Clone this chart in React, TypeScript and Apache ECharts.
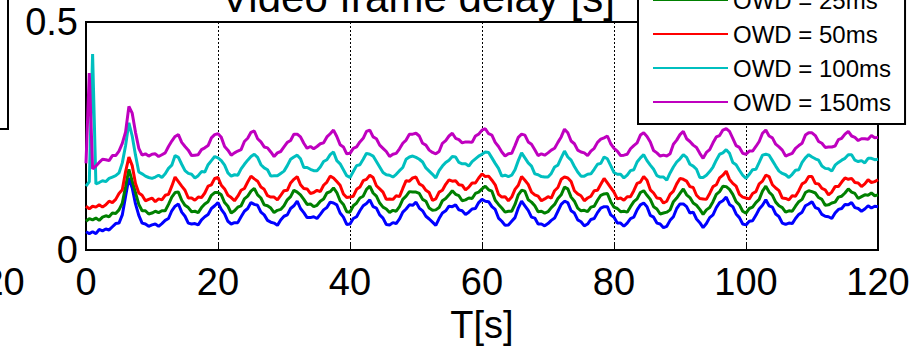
import React, { useEffect, useRef } from "react";
import * as echarts from "echarts";

// Sampling step of the recorded traces (seconds)
const SAMPLE_STEP_S = 0.5;

// Video frame delay in milliseconds, one value every 0.5 s from 0 to 120 s
const owd0Ms = [
  40, 36, 40, 36, 45, 42, 46, 44, 51, 58,
  59, 77, 118, 158, 136, 101, 76, 59, 57, 52,
  55, 57, 52, 58, 65, 69, 86, 96, 101, 83,
  74, 59, 57, 58, 55, 66, 73, 78, 91, 97,
  104, 89, 79, 63, 57, 60, 60, 73, 85, 91,
  104, 100, 98, 83, 77, 65, 61, 59, 54, 66,
  74, 77, 91, 97, 107, 91, 82, 71, 71, 73,
  69, 78, 88, 93, 105, 103, 99, 81, 72, 56,
  57, 69, 73, 86, 97, 102, 110, 95, 92, 77,
  70, 56, 55, 60, 58, 68, 83, 90, 99, 98,
  105, 92, 86, 74, 68, 61, 54, 69, 81, 86,
  96, 95, 99, 88, 86, 78, 83, 90, 91, 104,
  111, 107, 106, 95, 89, 70, 63, 54, 55, 63,
  71, 92, 107, 97, 87, 72, 70, 57, 57, 53,
  58, 65, 70, 85, 100, 107, 104, 86, 81, 66,
  62, 53, 57, 67, 69, 82, 92, 95, 95, 77,
  72, 59, 59, 52, 59, 69, 72, 88, 99, 103,
  95, 76, 72, 59, 57, 49, 52, 65, 73, 91,
  101, 101, 95, 81, 83, 68, 60, 49, 58, 71,
  77, 93, 104, 108, 116, 100, 95, 79, 71, 57,
  55, 63, 64, 76, 90, 98, 110, 97, 94, 79,
  73, 59, 56, 59, 58, 69, 78, 83, 97, 101,
  106, 93, 90, 78, 74, 73, 69, 81, 89, 91,
  100, 99, 104, 93, 91, 85, 90, 97, 92, 96,
  95,
];

const owd25Ms = [
  63, 69, 66, 70, 65, 72, 75, 73, 81, 80,
  88, 103, 139, 177, 151, 126, 100, 86, 86, 79,
  81, 85, 82, 86, 86, 100, 116, 126, 127, 109,
  98, 93, 84, 85, 82, 93, 101, 106, 120, 126,
  126, 121, 104, 96, 81, 86, 94, 97, 112, 118,
  129, 135, 121, 114, 99, 97, 92, 82, 87, 89,
  97, 110, 117, 131, 127, 121, 111, 100, 101, 95,
  98, 107, 112, 125, 128, 136, 126, 108, 100, 84,
  83, 97, 103, 114, 118, 133, 140, 125, 118, 103,
  94, 90, 82, 87, 85, 95, 111, 118, 128, 127,
  127, 124, 111, 107, 92, 87, 88, 93, 108, 113,
  121, 130, 122, 119, 108, 110, 114, 113, 124, 127,
  134, 140, 132, 129, 109, 100, 92, 83, 85, 85,
  100, 121, 131, 129, 110, 105, 97, 84, 85, 81,
  84, 93, 100, 113, 121, 138, 134, 116, 107, 92,
  86, 87, 84, 94, 96, 109, 120, 123, 124, 106,
  94, 91, 84, 85, 83, 95, 106, 112, 126, 130,
  120, 111, 95, 90, 79, 81, 83, 88, 106, 114,
  124, 134, 121, 115, 103, 98, 89, 78, 88, 93,
  106, 122, 128, 140, 139, 133, 122, 106, 99, 85,
  81, 91, 94, 104, 111, 129, 140, 127, 120, 105,
  97, 93, 83, 86, 85, 96, 106, 111, 126, 130,
  128, 125, 115, 111, 98, 99, 103, 105, 116, 118,
  125, 134, 127, 124, 113, 117, 121, 120, 125, 119,
  121,
];

const owd50Ms = [
  96, 90, 96, 94, 99, 94, 99, 107, 104, 111,
  124, 132, 172, 204, 185, 146, 125, 120, 108, 111,
  114, 106, 112, 110, 120, 122, 140, 160, 150, 140,
  131, 114, 114, 109, 116, 115, 125, 140, 143, 157,
  159, 142, 134, 120, 115, 108, 118, 131, 135, 149,
  162, 156, 151, 138, 133, 119, 116, 116, 110, 120,
  130, 131, 147, 155, 161, 143, 135, 134, 124, 126,
  131, 128, 142, 149, 162, 158, 150, 142, 123, 115,
  116, 118, 133, 138, 152, 155, 164, 159, 141, 134,
  127, 111, 112, 111, 119, 117, 135, 152, 151, 158,
  160, 145, 141, 131, 126, 109, 112, 127, 131, 144,
  154, 151, 152, 143, 142, 132, 138, 147, 147, 158,
  167, 161, 162, 153, 143, 122, 116, 117, 108, 116,
  133, 142, 161, 153, 144, 127, 121, 118, 108, 112,
  117, 114, 130, 137, 155, 160, 158, 150, 130, 123,
  119, 108, 114, 118, 130, 131, 144, 157, 147, 137,
  127, 112, 114, 109, 117, 117, 130, 146, 149, 161,
  153, 132, 125, 114, 113, 103, 107, 122, 129, 145,
  157, 155, 151, 139, 137, 120, 113, 112, 111, 124,
  139, 143, 158, 164, 173, 155, 146, 140, 122, 116,
  114, 112, 124, 128, 145, 151, 164, 161, 143, 136,
  130, 114, 113, 110, 119, 118, 130, 145, 149, 161,
  161, 146, 145, 135, 132, 121, 127, 139, 139, 149,
  158, 155, 157, 148, 147, 139, 145, 154, 148, 150,
  154,
];

const owd100Ms = [
  140, 150, 430, 145, 148, 152, 150, 157, 160, 163,
  169, 191, 229, 279, 250, 208, 171, 167, 162, 159,
  157, 160, 164, 159, 167, 179, 186, 207, 203, 188,
  174, 168, 166, 158, 163, 172, 171, 187, 196, 205,
  202, 196, 186, 169, 162, 165, 164, 178, 188, 197,
  205, 210, 203, 187, 180, 176, 162, 163, 163, 168,
  173, 185, 199, 204, 208, 200, 181, 181, 177, 174,
  174, 182, 194, 198, 209, 215, 196, 189, 176, 163,
  159, 172, 185, 187, 199, 212, 210, 206, 194, 182,
  170, 165, 164, 160, 166, 174, 181, 199, 204, 206,
  203, 199, 193, 180, 173, 166, 158, 174, 184, 192,
  197, 205, 204, 192, 189, 189, 184, 194, 200, 206,
  210, 215, 214, 202, 190, 179, 162, 164, 161, 164,
  176, 196, 213, 202, 191, 184, 167, 165, 161, 160,
  160, 168, 182, 186, 202, 217, 204, 197, 183, 171,
  162, 162, 166, 167, 177, 188, 190, 204, 200, 185,
  170, 166, 166, 158, 164, 174, 176, 193, 202, 209,
  196, 186, 177, 163, 160, 160, 153, 169, 182, 193,
  200, 209, 203, 188, 184, 177, 159, 159, 164, 172,
  182, 197, 210, 213, 220, 212, 192, 187, 175, 164,
  157, 166, 176, 177, 192, 208, 210, 208, 196, 184,
  173, 168, 165, 159, 166, 175, 176, 192, 202, 209,
  204, 200, 197, 184, 179, 178, 173, 186, 192, 197,
  201, 209, 209, 197, 194, 196, 191, 201, 201, 198,
  199,
];

const owd150Ms = [
  190, 388, 178, 184, 192, 199, 198, 196, 207, 207,
  217, 234, 259, 315, 300, 258, 223, 208, 211, 206,
  210, 211, 205, 209, 213, 227, 239, 249, 253, 236,
  227, 219, 207, 208, 209, 220, 224, 229, 246, 253,
  255, 247, 227, 219, 208, 213, 217, 220, 238, 245,
  258, 261, 244, 237, 226, 224, 215, 205, 213, 216,
  226, 236, 240, 254, 254, 248, 234, 223, 227, 222,
  227, 233, 235, 248, 255, 263, 249, 231, 226, 211,
  212, 223, 226, 237, 245, 260, 263, 248, 244, 230,
  223, 216, 205, 210, 212, 222, 234, 241, 254, 254,
  256, 250, 234, 230, 219, 214, 211, 216, 234, 240,
  250, 256, 245, 242, 235, 237, 237, 236, 250, 254,
  263, 266, 255, 252, 236, 227, 215, 206, 211, 212,
  229, 247, 254, 252, 237, 232, 220, 207, 211, 208,
  213, 219, 223, 236, 248, 265, 257, 239, 233, 219,
  215, 213, 207, 217, 223, 236, 243, 246, 250, 233,
  223, 217, 207, 208, 210, 222, 229, 235, 252, 257,
  249, 237, 218, 213, 206, 208, 206, 211, 232, 241,
  253, 260, 244, 238, 230, 225, 212, 201, 214, 220,
  235, 248, 251, 263, 266, 260, 245, 229, 225, 212,
  210, 217, 217, 227, 238, 256, 263, 250, 246, 232,
  226, 219, 206, 209, 212, 223, 229, 234, 252, 257,
  257, 251, 238, 234, 225, 226, 226, 228, 242, 245,
  254, 260, 250, 247, 240, 244, 244, 243, 251, 246,
  247,
];

const seriesNames = ["OWD = 0ms", "OWD = 25ms", "OWD = 50ms", "OWD = 100ms", "OWD = 150ms"];
const seriesColors = ["#0000ff", "#008000", "#ff0000", "#00bfbf", "#bf00bf"];
const seriesData = [owd0Ms, owd25Ms, owd50Ms, owd100Ms, owd150Ms];

const xTickInterval = 20;
const FONT = "Arial, 'Liberation Sans', Helvetica, sans-serif";

export default function App() {
  const ref = useRef<HTMLDivElement>(null);

  useEffect(() => {
    document.body.style.margin = "0";
    if (!ref.current) return;
    const chart = echarts.init(ref.current, null, { renderer: "svg" });

    const series = seriesData.map((arr, k) => ({
      name: seriesNames[k],
      type: "line",
      data: arr.map((v, i) => [i * SAMPLE_STEP_S, v]),
      showSymbol: false,
      symbol: "none",
      color: seriesColors[k],
      lineStyle: { color: seriesColors[k], width: 3 },
      z: 2 + k,
    }));

    chart.setOption({
      animation: false,
      backgroundColor: "#ffffff",
      title: {
        text: "Video frame delay [s]",
        left: 418,
        textAlign: "center",
        top: -24,
        padding: 0,
        textStyle: { fontSize: 42, fontWeight: "normal", color: "#000", fontFamily: FONT },
      },
      legend: {
        data: seriesNames.map((n) => ({ name: n, icon: "rect" })),
        orient: "vertical",
        left: 638,
        top: -56,
        padding: [10, 14, 10, 15],
        itemWidth: 75,
        itemHeight: 2,
        itemGap: 10,
        backgroundColor: "#ffffff",
        borderColor: "#000",
        borderWidth: 2,
        textStyle: { fontSize: 24, color: "#000", fontFamily: FONT },
        z: 10,
      },
      grid: {
        left: 86,
        right: 40,
        top: 22,
        bottom: 99,
        show: true,
        containLabel: false,
        outerBoundsMode: "none",
        borderColor: "#000",
        borderWidth: 2,
        backgroundColor: "transparent",
      },
      xAxis: {
        type: "value",
        min: 0,
        max: 120,
        interval: xTickInterval,
        name: "T[s]",
        nameLocation: "middle",
        nameGap: 30,
        nameTextStyle: { fontSize: 38, color: "#000", fontFamily: FONT },
        axisLine: { show: true, lineStyle: { color: "#000", width: 2 } },
        axisTick: { show: true, inside: true, length: 6, lineStyle: { color: "#000", width: 1 } },
        axisLabel: { fontSize: 38, color: "#000", margin: 13, fontFamily: FONT },
        splitLine: { show: true, lineStyle: { color: "#000", type: [2, 2], width: 1 } },
      },
      yAxis: {
        type: "value",
        min: 0,
        max: 500,
        interval: 500,
        axisLine: { show: true, lineStyle: { color: "#000", width: 2 } },
        axisTick: { show: false },
        axisLabel: {
          fontSize: 38,
          color: "#000",
          margin: 8,
          fontFamily: FONT,
          formatter: (v: number) => (v === 0 ? "0" : String(v / 1000)),
        },
        splitLine: { show: false },
      },
      graphic: [
        {
          type: "rect",
          shape: { x: -300, y: -10, width: 308, height: 139 },
          style: { fill: "#fff", stroke: "#000", lineWidth: 2 },
          z: 20,
        },
        {
          type: "text",
          x: -7,
          y: 263,
          style: {
            text: "120",
            fill: "#000",
            font: `38px ${FONT}`,
            align: "center",
            verticalAlign: "top",
          },
          z: 20,
        },
      ],
      series,
    });

    return () => chart.dispose();
  }, []);

  return <div ref={ref} style={{ width: 918, height: 349 }} />;
}
